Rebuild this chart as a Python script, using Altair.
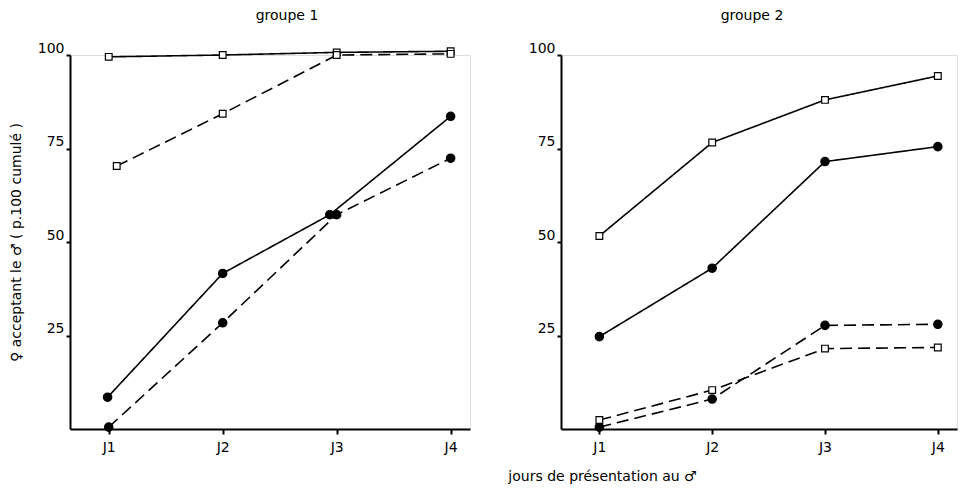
import altair as alt
import pandas as pd

# ---- data ----
day_labels = ["J1", "J2", "J3", "J4"]
days = [1, 2, 3, 4]

# groupe 1
g1_solid_sq = [99.5, 100, 100.7, 101]
g1_dash_sq_days = [1.07, 2, 3, 4]
g1_dash_sq = [70.3, 84.3, 100, 100.3]
g1_solid_ci_days = [0.99, 2, 2.94, 4]
g1_solid_ci = [8.5, 41.6, 57.3, 83.6]
g1_dash_ci = [0.5, 28.4, 57.3, 72.4]

# groupe 2
g2_solid_sq = [51.6, 76.6, 88, 94.4]
g2_solid_ci = [24.7, 43, 71.5, 75.5]
g2_dash_ci = [0.5, 8, 27.7, 28]
g2_dash_sq = [2.4, 10.4, 21.5, 21.8]

FONT = "DejaVu Sans"
FS = 14


def frame(series, style, marker, xs, ys):
    return pd.DataFrame({"series": series, "style": style, "marker": marker,
                         "day": xs, "value": ys})


g1 = pd.concat([
    frame("a", "solid", "square", days, g1_solid_sq),
    frame("b", "dashed", "square", g1_dash_sq_days, g1_dash_sq),
    frame("c", "solid", "circle", g1_solid_ci_days, g1_solid_ci),
    frame("d", "dashed", "circle", days, g1_dash_ci),
])
g2 = pd.concat([
    frame("a", "solid", "square", days, g2_solid_sq),
    frame("b", "solid", "circle", days, g2_solid_ci),
    frame("c", "dashed", "circle", days, g2_dash_ci),
    frame("d", "dashed", "square", days, g2_dash_sq),
])

label_expr = "'J' + datum.value"


def panel(df, title, title_dx, show_ytitle, show_xtitle, width):
    xaxis = dict(values=days, labelExpr=label_expr, grid=False, domainWidth=2,
                 tickWidth=2, tickSize=5, labelFontSize=FS, labelFont=FONT,
                 labelPadding=6, domainColor="black", tickColor="black",
                 labelColor="black")
    if show_xtitle:
        xaxis.update(title="jours de présentation au ♂", titleX=41, titleY=47,
                     titleAlign="center", titleBaseline="middle",
                     titleFont=FONT, titleFontSize=FS, titleFontWeight="normal",
                     titleColor="black")
    else:
        xaxis.update(title=None)
    yaxis = dict(values=[25, 50, 75, 100], grid=False, domainWidth=2,
                 tickWidth=2, tickSize=4, labelFontSize=FS, labelFont=FONT,
                 labelPadding=2, labelBaseline="bottom", domainColor="black",
                 tickColor="black", labelColor="black")
    if show_ytitle:
        yaxis.update(title="♀ acceptant le ♂ ( p.100 cumulé )", titleFont=FONT,
                     titleFontSize=FS, titleFontWeight="normal", titlePadding=14,
                     titleColor="black")
    else:
        yaxis.update(title=None)

    x = alt.X("day:Q", scale=alt.Scale(domain=[0.66, 4.17], nice=False, zero=False),
              axis=alt.Axis(**xaxis))
    y = alt.Y("value:Q", scale=alt.Scale(domain=[0, 100], nice=False),
              axis=alt.Axis(**yaxis))

    lines = alt.Chart(df).mark_line(color="black", strokeWidth=1.6).encode(
        x=x, y=y, detail="series:N",
        strokeDash=alt.StrokeDash("style:N",
                                  scale=alt.Scale(domain=["solid", "dashed"],
                                                  range=[[1, 0], [12, 6]]),
                                  legend=None),
    )
    points = alt.Chart(df).mark_point(filled=True, opacity=1, stroke="black",
                                      strokeWidth=1.2).encode(
        x=x, y=y,
        shape=alt.Shape("marker:N",
                        scale=alt.Scale(domain=["square", "circle"],
                                        range=["square", "circle"]),
                        legend=None),
        fill=alt.Fill("marker:N",
                      scale=alt.Scale(domain=["square", "circle"],
                                      range=["white", "black"]),
                      legend=None),
        size=alt.Size("marker:N",
                      scale=alt.Scale(domain=["square", "circle"], range=[45, 70]),
                      legend=None),
    )
    return alt.layer(lines, points).properties(
        width=width, height=374,
        title=alt.TitleParams(title, font=FONT, fontSize=FS, fontWeight="normal",
                              offset=18, dx=title_dx, color="black"),
    )


left = panel(g1, "groupe  1", 17, True, False, 400)
right = panel(g2, "groupe  2", -7, False, True, 396)

chart = alt.hconcat(left, right, spacing=91, bounds="flush").properties(
    padding={"left": 0, "right": 0, "top": 0, "bottom": 0}
).configure_view(strokeWidth=0).configure(background="white")

chart.save("out.html", embed_options={"renderer": "svg", "actions": False})
